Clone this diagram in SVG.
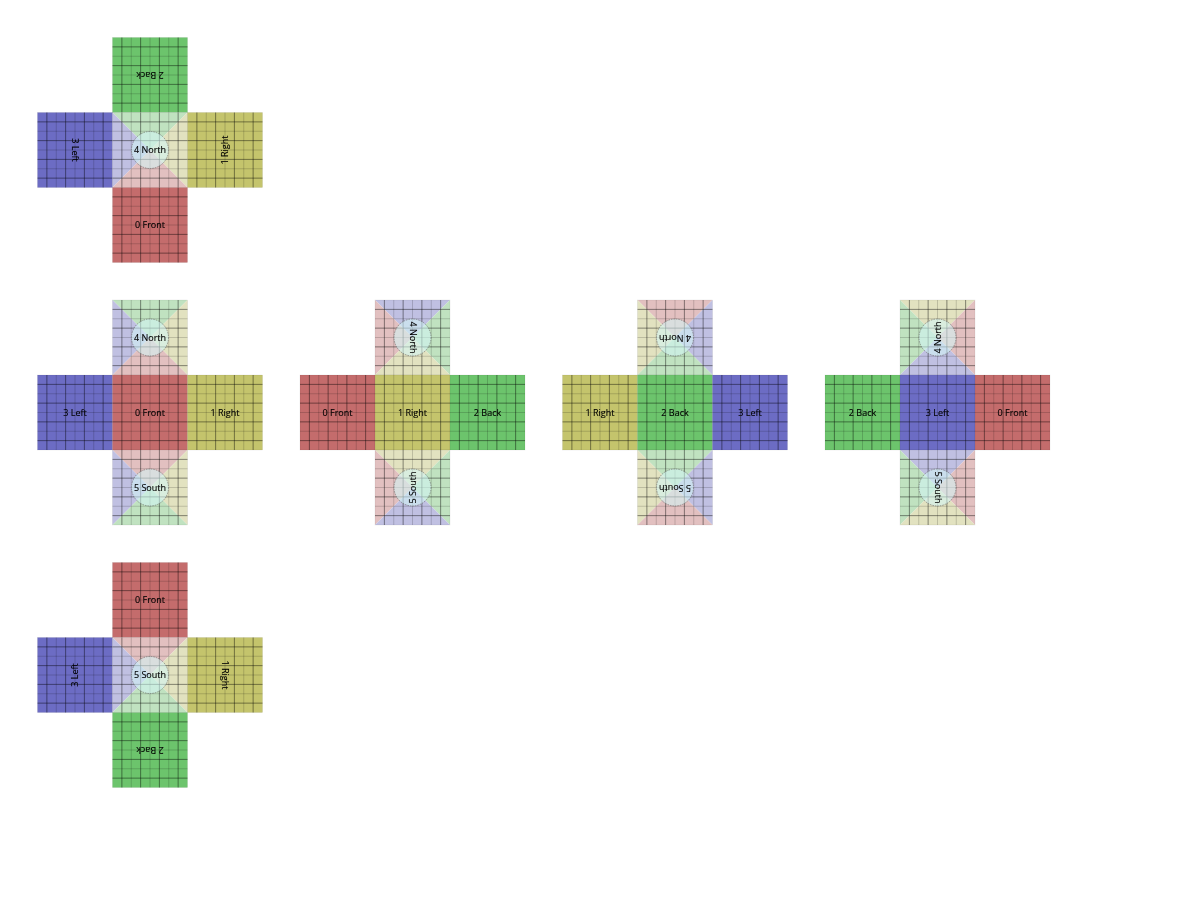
<svg xmlns="http://www.w3.org/2000/svg" width="1200" height="900" viewBox="0 0 1200 900">
<style>
text{font-family:"Open Sans","Noto Sans","Liberation Sans",sans-serif;font-size:9px;fill:#000;stroke:#000;stroke-width:.12;text-anchor:middle}
.r{fill:#c46c6c}.y{fill:#c4c46c}.g{fill:#6cc46c}.b{fill:#6c6cc4}
.pr{fill:#e2c0c0}.py{fill:#e2e2c0}.pg{fill:#c0e2c0}.pb{fill:#c0c0e2}
.edge{fill:none;stroke:#000;stroke-opacity:.12;stroke-width:.5}
.grid{fill:none;stroke:#000;stroke-opacity:.55;stroke-width:.8}
.fine{fill:none;stroke:#000;stroke-opacity:.24;stroke-width:.7}
.hub{fill:#d2f5f5;fill-opacity:.55;stroke:#666;stroke-width:.6;stroke-dasharray:1.5 1}
</style>
<defs>
<filter id="soft" filterUnits="userSpaceOnUse" x="0" y="0" width="1200" height="900"><feGaussianBlur stdDeviation="0.32"/></filter>
<rect id="s" width="75" height="75"/>
<polygon id="t" points="0,0 75,0 37.5,37.5"/>
<polygon id="l" points="0,0 37.5,37.5 0,75"/>
<polygon id="e" points="75,0 75,75 37.5,37.5"/>
<polygon id="d" points="0,75 37.5,37.5 75,75"/>
<g id="m">
<rect class="edge" width="75" height="75"/>
<path class="fine" d="M18.75 0V75M37.5 0V75M56.25 0V75M0 18.75H75M0 37.5H75M0 56.25H75"/>
<path class="grid" d="M9.375 0V75M28.125 0V75M46.875 0V75M65.625 0V75M0 9.375H75M0 28.125H75M0 46.875H75M0 65.625H75"/>
</g>
<circle id="c" class="hub" cx="37.5" cy="37.5" r="18.5"/>
</defs>
<g filter="url(#soft)">
<g id="net1">
<g id="n1-back" transform="translate(112.5,37.5)"><use href="#s" class="g"/><use href="#m"/><text x="37.5" y="40.5" transform="rotate(180 37.5 37.5)">2 Back</text></g>
<g id="n1-left" transform="translate(37.5,112.5)"><use href="#s" class="b"/><use href="#m"/><text x="37.5" y="40.5" transform="rotate(90 37.5 37.5)">3 Left</text></g>
<g id="n1-north" transform="translate(112.5,112.5)"><use href="#t" class="pg"/><use href="#l" class="pb"/><use href="#e" class="py"/><use href="#d" class="pr"/><use href="#m"/><use href="#c"/><text x="37.5" y="40.5">4 North</text></g>
<g id="n1-right" transform="translate(187.5,112.5)"><use href="#s" class="y"/><use href="#m"/><text x="37.5" y="40.5" transform="rotate(-90 37.5 37.5)">1 Right</text></g>
<g id="n1-front" transform="translate(112.5,187.5)"><use href="#s" class="r"/><use href="#m"/><text x="37.5" y="40.5">0 Front</text></g>
</g>

<g id="net2">
<g id="n2-north" transform="translate(112.5,300)"><use href="#t" class="pg"/><use href="#l" class="pb"/><use href="#e" class="py"/><use href="#d" class="pr"/><use href="#m"/><use href="#c"/><text x="37.5" y="40.5">4 North</text></g>
<g id="n2-left" transform="translate(37.5,375)"><use href="#s" class="b"/><use href="#m"/><text x="37.5" y="40.5">3 Left</text></g>
<g id="n2-front" transform="translate(112.5,375)"><use href="#s" class="r"/><use href="#m"/><text x="37.5" y="40.5">0 Front</text></g>
<g id="n2-right" transform="translate(187.5,375)"><use href="#s" class="y"/><use href="#m"/><text x="37.5" y="40.5">1 Right</text></g>
<g id="n2-south" transform="translate(112.5,450)"><use href="#t" class="pr"/><use href="#l" class="pb"/><use href="#e" class="py"/><use href="#d" class="pg"/><use href="#m"/><use href="#c"/><text x="37.5" y="40.5">5 South</text></g>
</g>

<g id="net3">
<g id="n3-north" transform="translate(375,300)"><use href="#t" class="pb"/><use href="#l" class="pr"/><use href="#e" class="pg"/><use href="#d" class="py"/><use href="#m"/><use href="#c"/><text x="37.5" y="40.5" transform="rotate(90 37.5 37.5)">4 North</text></g>
<g id="n3-left" transform="translate(300,375)"><use href="#s" class="r"/><use href="#m"/><text x="37.5" y="40.5">0 Front</text></g>
<g id="n3-front" transform="translate(375,375)"><use href="#s" class="y"/><use href="#m"/><text x="37.5" y="40.5">1 Right</text></g>
<g id="n3-right" transform="translate(450,375)"><use href="#s" class="g"/><use href="#m"/><text x="37.5" y="40.5">2 Back</text></g>
<g id="n3-south" transform="translate(375,450)"><use href="#t" class="py"/><use href="#l" class="pr"/><use href="#e" class="pg"/><use href="#d" class="pb"/><use href="#m"/><use href="#c"/><text x="37.5" y="40.5" transform="rotate(-90 37.5 37.5)">5 South</text></g>
</g>

<g id="net4">
<g id="n4-north" transform="translate(637.5,300)"><use href="#t" class="pr"/><use href="#l" class="py"/><use href="#e" class="pb"/><use href="#d" class="pg"/><use href="#m"/><use href="#c"/><text x="37.5" y="40.5" transform="rotate(180 37.5 37.5)">4 North</text></g>
<g id="n4-left" transform="translate(562.5,375)"><use href="#s" class="y"/><use href="#m"/><text x="37.5" y="40.5">1 Right</text></g>
<g id="n4-front" transform="translate(637.5,375)"><use href="#s" class="g"/><use href="#m"/><text x="37.5" y="40.5">2 Back</text></g>
<g id="n4-right" transform="translate(712.5,375)"><use href="#s" class="b"/><use href="#m"/><text x="37.5" y="40.5">3 Left</text></g>
<g id="n4-south" transform="translate(637.5,450)"><use href="#t" class="pg"/><use href="#l" class="py"/><use href="#e" class="pb"/><use href="#d" class="pr"/><use href="#m"/><use href="#c"/><text x="37.5" y="40.5" transform="rotate(180 37.5 37.5)">5 South</text></g>
</g>

<g id="net5">
<g id="n5-north" transform="translate(900,300)"><use href="#t" class="py"/><use href="#l" class="pg"/><use href="#e" class="pr"/><use href="#d" class="pb"/><use href="#m"/><use href="#c"/><text x="37.5" y="40.5" transform="rotate(-90 37.5 37.5)">4 North</text></g>
<g id="n5-left" transform="translate(825,375)"><use href="#s" class="g"/><use href="#m"/><text x="37.5" y="40.5">2 Back</text></g>
<g id="n5-front" transform="translate(900,375)"><use href="#s" class="b"/><use href="#m"/><text x="37.5" y="40.5">3 Left</text></g>
<g id="n5-right" transform="translate(975,375)"><use href="#s" class="r"/><use href="#m"/><text x="37.5" y="40.5">0 Front</text></g>
<g id="n5-south" transform="translate(900,450)"><use href="#t" class="pb"/><use href="#l" class="pg"/><use href="#e" class="pr"/><use href="#d" class="py"/><use href="#m"/><use href="#c"/><text x="37.5" y="40.5" transform="rotate(90 37.5 37.5)">5 South</text></g>
</g>

<g id="net6">
<g id="n6-front" transform="translate(112.5,562.5)"><use href="#s" class="r"/><use href="#m"/><text x="37.5" y="40.5">0 Front</text></g>
<g id="n6-left" transform="translate(37.5,637.5)"><use href="#s" class="b"/><use href="#m"/><text x="37.5" y="40.5" transform="rotate(-90 37.5 37.5)">3 Left</text></g>
<g id="n6-south" transform="translate(112.5,637.5)"><use href="#t" class="pr"/><use href="#l" class="pb"/><use href="#e" class="py"/><use href="#d" class="pg"/><use href="#m"/><use href="#c"/><text x="37.5" y="40.5">5 South</text></g>
<g id="n6-right" transform="translate(187.5,637.5)"><use href="#s" class="y"/><use href="#m"/><text x="37.5" y="40.5" transform="rotate(90 37.5 37.5)">1 Right</text></g>
<g id="n6-back" transform="translate(112.5,712.5)"><use href="#s" class="g"/><use href="#m"/><text x="37.5" y="40.5" transform="rotate(180 37.5 37.5)">2 Back</text></g>
</g>
</g>
</svg>
